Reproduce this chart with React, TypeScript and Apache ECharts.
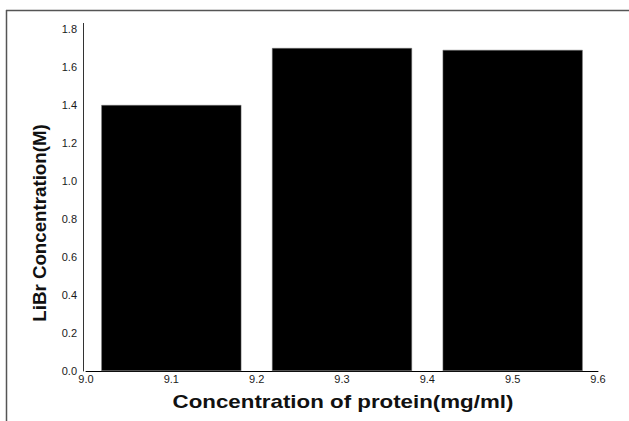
import React, { useEffect, useRef } from "react";
import * as echarts from "echarts";

const proteinConc = [9.1, 9.3, 9.5];
const libr = [1.4, 1.7, 1.69];
const xTicks = [9.0, 9.6];
const yTicks = [0, 1.8];
const xTitle = "Concentration of protein(mg/ml)";
const yTitle = "LiBr Concentration(M)";

export default function App() {
  const ref = useRef<HTMLDivElement>(null);
  useEffect(() => {
    if (!ref.current) return;
    const chart = echarts.init(ref.current, null, { renderer: "svg" });
    const font = "'Liberation Sans', Arial, sans-serif";
    chart.setOption({
      animation: false,
      backgroundColor: "#ffffff",
      grid: { left: 86, right: 31, top: 29, bottom: 50 },
      xAxis: {
        type: "value",
        min: xTicks[0],
        max: xTicks[1],
        interval: 0.1,
        axisLine: { show: true, lineStyle: { color: "#000", width: 1 } },
        axisTick: { show: false },
        splitLine: { show: false },
        axisLabel: {
          color: "#1a1a1a",
          fontSize: 11,
          fontFamily: font,
          margin: 2,
          formatter: (v: number) => v.toFixed(1),
        },
      },
      yAxis: {
        type: "value",
        min: yTicks[0],
        max: yTicks[1],
        interval: 0.2,
        offset: 3,
        axisLine: { show: true, lineStyle: { color: "#333", width: 1 } },
        axisTick: { show: false },
        splitLine: { show: false },
        axisLabel: {
          color: "#1a1a1a",
          fontSize: 11,
          fontFamily: font,
          margin: 6,
          formatter: (v: number) => v.toFixed(1),
        },
      },
      series: [
        {
          type: "bar",
          data: proteinConc.map((x, i) => [x, libr[i]]),
          barWidth: 140,
          itemStyle: { color: "#000", borderColor: "#777", borderWidth: 0.5 },
        },
      ],
      graphic: [
        {
          type: "line",
          shape: { x1: 6, y1: 10.5, x2: 629, y2: 10.5 },
          style: { stroke: "#555", lineWidth: 1.5 },
        },
        {
          type: "line",
          shape: { x1: 6.5, y1: 10, x2: 6.5, y2: 421 },
          style: { stroke: "#555", lineWidth: 1.5 },
        },
        {
          type: "line",
          shape: { x1: 83.5, y1: 23, x2: 83.5, y2: 29 },
          style: { stroke: "#333", lineWidth: 1 },
        },
        {
          type: "text",
          x: 343,
          y: 402,
          scaleX: 1.24,
          style: {
            text: xTitle,
            font: `bold 18px ${font}`,
            fill: "#111",
            align: "center",
            verticalAlign: "middle",
          },
        },
        {
          type: "text",
          x: 40,
          y: 223,
          rotation: Math.PI / 2,
          scaleX: 1.07,
          style: {
            text: yTitle,
            font: `bold 17.5px ${font}`,
            fill: "#111",
            align: "center",
            verticalAlign: "middle",
          },
        },
      ],
    });
    return () => chart.dispose();
  }, []);
  return (
    <div
      ref={ref}
      style={{ position: "absolute", left: 0, top: 0, width: 629, height: 421 }}
    />
  );
}
